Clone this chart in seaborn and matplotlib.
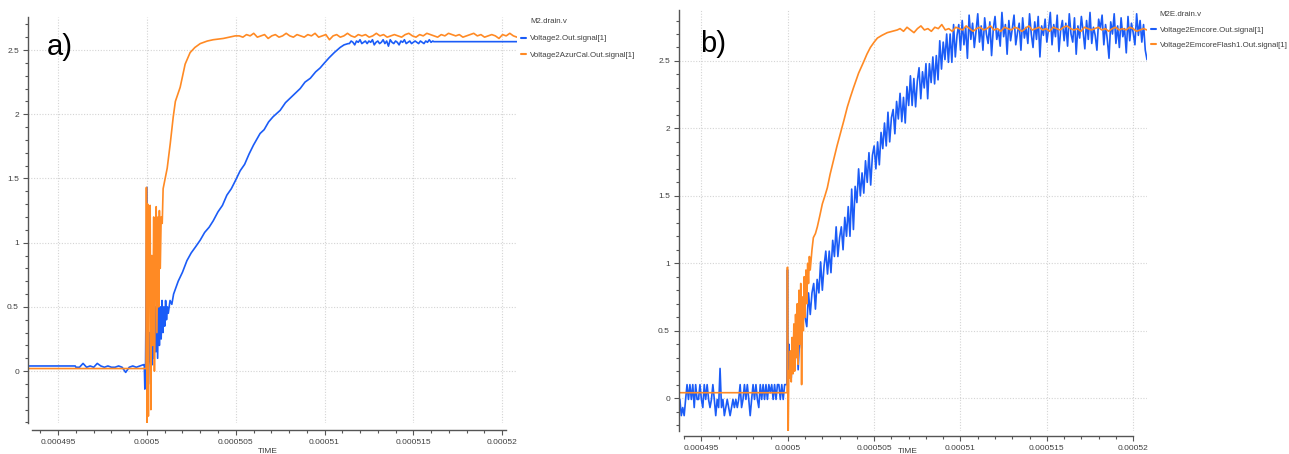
import numpy as np
import pandas as pd
import seaborn as sns
import matplotlib
matplotlib.use("Agg")
import matplotlib.pyplot as plt
from matplotlib.lines import Line2D
from matplotlib.ticker import MultipleLocator, FuncFormatter

sns.set_style("white")
plt.rcParams['font.family'] = ['Liberation Sans', 'DejaVu Sans']

BLUE = "#1b5cf7"
ORANGE = "#ff8a24"

# ======================================================= #
# data, time in microseconds          #
# ======================================================= #

# ------ panel a) Voltage2.Out.signal[1] ------ #
A_BLUE_NAME = "Voltage2.Out.signal[1]"
A_BLUE_PRE_T = [493.3, 495.96]
A_BLUE_PRE_V = [0.04, 0.04]
A_BLUE_IDLE_SPAN = (496.0, 499.8)
A_BLUE_IDLE_V = [0.03, 0.03, 0.06, 0.03, 0.04, 0.03, 0.06, 0.04, 0.03, 0.04,
                 0.03, 0.03, 0.04, 0.03, -0.01, 0.03, 0.04, 0.03, 0.04, 0.05]
A_BLUE_EDGE_T = [499.85, 499.88, 499.92, 499.96, 500.0, 500.05, 500.1, 500.15,
                 500.2, 500.25, 500.3, 500.35, 500.4, 500.45, 500.5, 500.55,
                 500.6, 500.65, 500.7, 500.75, 500.8, 500.85, 500.9, 500.95,
                 501.0, 501.05, 501.1, 501.15, 501.2, 501.3, 501.4]
A_BLUE_EDGE_V = [0.05, -0.14, 0.05, 0.75, 1.43, 0.02, 0.1, 0.3, -0.1, 0.35,
                 0.05, 0.45, 0.1, 0.5, 0.15, 0.6, 0.1, 0.55, 0.2, 0.5,
                 0.25, 0.55, 0.3, 0.5, 0.35, 0.55, 0.4, 0.5, 0.45, 0.55, 0.52]
A_BLUE_RAMP_T = [501.5, 501.76, 502.0, 502.25, 502.49, 502.75, 503.0, 503.25,
                 503.5, 503.73, 504.0, 504.25, 504.5, 504.75, 504.97, 505.25,
                 505.5, 505.75, 506.0, 506.37, 506.6, 506.85, 507.1, 507.5,
                 507.8, 508.1, 508.4, 508.63, 508.9, 509.2, 509.5, 509.75,
                 510.0, 510.26, 510.55, 510.88, 511.1, 511.33]
A_BLUE_RAMP_V = [0.60, 0.70, 0.77, 0.86, 0.92, 0.97, 1.02, 1.08, 1.12, 1.17,
                 1.24, 1.29, 1.37, 1.42, 1.48, 1.56, 1.61, 1.69, 1.76, 1.85,
                 1.88, 1.94, 1.98, 2.03, 2.09, 2.13, 2.17, 2.20, 2.25, 2.28,
                 2.33, 2.36, 2.40, 2.44, 2.48, 2.52, 2.54, 2.55]
A_BLUE_FLAT_SPAN = (511.4, 516.1)
A_BLUE_FLAT_V = [2.55, 2.57, 2.56, 2.54, 2.57, 2.56, 2.58, 2.55, 2.56, 2.57,
                 2.55, 2.57, 2.56, 2.58, 2.54, 2.56, 2.57, 2.55, 2.56, 2.58,
                 2.55, 2.57, 2.53, 2.58, 2.56, 2.55, 2.57, 2.56, 2.54, 2.57,
                 2.56, 2.58, 2.55, 2.56, 2.57, 2.55, 2.56, 2.57, 2.56, 2.55,
                 2.57, 2.56, 2.55, 2.57, 2.56, 2.58, 2.56, 2.57]
A_BLUE_HOLD_T = [516.15, 520.84]
A_BLUE_HOLD_V = [2.565, 2.565]

# ------ panel a) Voltage2AzurCal.Out.signal[1] ------ #
A_ORANGE_NAME = "Voltage2AzurCal.Out.signal[1]"
A_ORANGE_T = [493.3, 499.95, 499.97, 500.0, 500.04, 500.08, 500.12, 500.18,
              500.22, 500.27, 500.32, 500.38, 500.42, 500.48, 500.52, 500.56,
              500.62, 500.66, 500.7, 500.75, 500.8, 500.86, 500.91, 501.14,
              501.31, 501.48, 501.6, 501.87, 502.15, 502.43, 502.7, 503.0,
              503.4, 503.73, 504.3, 504.97]
A_ORANGE_V = [0.02, 0.02, 1.43, -0.45, 1.3, -0.35, 1.0, 1.29, -0.3, 0.9,
              0.2, 1.2, 0.0, 0.95, 1.28, 0.3, 1.2, 0.5, 1.25, 0.8,
              1.2, 1.15, 1.42, 1.58, 1.77, 1.98, 2.1, 2.21, 2.39, 2.48,
              2.52, 2.55, 2.57, 2.58, 2.59, 2.61]
A_ORANGE_FLAT_SPAN = (505.2, 520.84)
A_ORANGE_FLAT_V = [2.61, 2.60, 2.62, 2.61, 2.63, 2.60, 2.61, 2.62, 2.59, 2.61,
                   2.62, 2.60, 2.61, 2.63, 2.61, 2.60, 2.62, 2.61, 2.60, 2.62,
                   2.61, 2.63, 2.60, 2.61, 2.62, 2.58, 2.61, 2.62, 2.60, 2.61,
                   2.63, 2.61, 2.60, 2.62, 2.61, 2.62, 2.60, 2.61, 2.63, 2.61,
                   2.62, 2.60, 2.61, 2.62, 2.61, 2.60, 2.62, 2.63, 2.61, 2.60,
                   2.62, 2.61, 2.63, 2.62, 2.61, 2.60, 2.62, 2.61, 2.63, 2.62,
                   2.61, 2.62, 2.60, 2.61, 2.62, 2.63, 2.61, 2.62, 2.60, 2.61,
                   2.62, 2.61, 2.59, 2.62, 2.61, 2.63, 2.61, 2.60]

# ------ panel b) Voltage2Emcore.Out.signal[1] ------ #
B_BLUE_NAME = "Voltage2Emcore.Out.signal[1]"
B_BLUE_IDLE_SPAN = (493.75, 499.9)
B_BLUE_IDLE_V = [-0.01, -0.13, -0.07, -0.13, -0.01, 0.1, -0.01, 0.1, -0.01, 0.1,
                 -0.07, 0.1, -0.01, -0.01, 0.1, -0.01, -0.07, 0.1, -0.01, 0.1,
                 -0.01, -0.07, -0.01, 0.1, -0.01, -0.13, -0.01, -0.07, 0.22, -0.07,
                 -0.01, -0.13, -0.07, -0.01, -0.07, -0.13, -0.07, -0.01, -0.07, -0.01,
                 -0.07, -0.01, 0.1, -0.07, -0.01, 0.1, -0.01, 0.1, -0.01, -0.13,
                 -0.01, 0.1, -0.01, 0.1, -0.01, -0.07, 0.1, -0.01, 0.1, -0.01,
                 0.1, -0.01, 0.1, 0.04, 0.1, -0.01, 0.1, -0.01, 0.1, 0.1,
                 -0.01, 0.1, -0.01, 0.1, 0.1]
B_BLUE_EDGE_T = [499.95, 499.98, 500.02, 500.06]
B_BLUE_EDGE_V = [0.1, 0.95, 0.12, 0.4]
B_BLUE_RAMP_SPAN = (500.1, 510.0)
B_BLUE_RAMP_V = [0.30, 0.15, 0.43, 0.25, 0.53, 0.21, 0.50, 0.37, 0.74, 0.60,
                 0.53, 0.78, 0.62, 0.78, 0.85, 0.66, 0.88, 0.78, 1.01, 0.80,
                 0.98, 1.09, 0.92, 1.09, 0.93, 1.17, 1.05, 1.27, 1.05, 1.19,
                 1.27, 1.10, 1.34, 1.20, 1.42, 1.20, 1.55, 1.25, 1.57, 1.45,
                 1.70, 1.50, 1.67, 1.52, 1.76, 1.60, 1.82, 1.58, 1.80, 1.87,
                 1.70, 1.90, 1.73, 1.97, 1.85, 2.04, 1.87, 2.12, 1.90, 2.08,
                 2.14, 1.96, 2.20, 2.07, 2.26, 2.05, 2.23, 2.04, 2.31, 2.17,
                 2.39, 2.17, 2.37, 2.16, 2.35, 2.45, 2.22, 2.42, 2.30, 2.48,
                 2.22, 2.48, 2.34, 2.53, 2.33, 2.54, 2.36, 2.65, 2.44, 2.64,
                 2.51, 2.70, 2.49, 2.70, 2.49, 2.77, 2.53, 2.69, 2.77, 2.58]
B_BLUE_FLAT_SPAN = (510.1, 520.8)
B_BLUE_FLAT_V = [2.80, 2.62, 2.75, 2.52, 2.84, 2.66, 2.78, 2.60, 2.72, 2.85,
                 2.64, 2.76, 2.58, 2.82, 2.70, 2.63, 2.79, 2.54, 2.74, 2.83,
                 2.66, 2.73, 2.61, 2.86, 2.68, 2.77, 2.55, 2.80, 2.65, 2.74,
                 2.84, 2.62, 2.71, 2.78, 2.58, 2.82, 2.67, 2.75, 2.63, 2.85,
                 2.70, 2.60, 2.79, 2.66, 2.83, 2.53, 2.76, 2.69, 2.81, 2.64,
                 2.74, 2.86, 2.62, 2.77, 2.68, 2.84, 2.57, 2.73, 2.80, 2.65,
                 2.78, 2.61, 2.85, 2.70, 2.64, 2.82, 2.55, 2.76, 2.67, 2.83,
                 2.72, 2.59, 2.80, 2.66, 2.86, 2.63, 2.75, 2.69, 2.58, 2.81,
                 2.74, 2.84, 2.62, 2.77, 2.66, 2.52, 2.79, 2.70, 2.85, 2.63,
                 2.76, 2.60, 2.82, 2.68, 2.74, 2.56, 2.83, 2.65, 2.78, 2.71,
                 2.62, 2.85, 2.69, 2.80, 2.64, 2.77, 2.58, 2.51]

# ------ panel b) Voltage2EmcoreFlash1.Out.signal[1] ------ #
B_ORANGE_NAME = "Voltage2EmcoreFlash1.Out.signal[1]"
B_ORANGE_T = [493.7, 499.96, 499.98, 500.02, 500.06, 500.1, 500.15, 500.2,
              500.25, 500.3, 500.35, 500.4, 500.45, 500.5, 500.55, 500.6,
              500.65, 500.7, 500.75, 500.8, 500.85, 500.9, 500.95, 501.0,
              501.05, 501.1, 501.15, 501.2, 501.25, 501.3, 501.4, 501.48,
              501.6, 501.71, 501.85, 502.0, 502.15, 502.29, 502.45, 502.64,
              502.85, 503.04, 503.25, 503.45, 503.62, 503.8, 504.1, 504.38,
              504.58, 504.78, 505.0, 505.19, 505.45, 505.76, 506.05, 506.34]
B_ORANGE_V = [0.04, 0.04, 0.97, -0.3, 0.2, 0.15, 0.35, 0.12, 0.45, 0.18,
              0.55, 0.2, 0.62, 0.3, 0.7, 0.25, 0.8, 0.4, 0.85, 0.1,
              0.75, 0.5, 0.9, 0.6, 0.95, 0.7, 1.0, 0.85, 1.05, 0.95,
              1.1, 1.19, 1.22, 1.27, 1.35, 1.44, 1.5, 1.56, 1.66, 1.76,
              1.87, 1.96, 2.06, 2.16, 2.23, 2.30, 2.41, 2.49, 2.55, 2.60,
              2.64, 2.67, 2.69, 2.71, 2.72, 2.73]
B_ORANGE_FLAT_SPAN = (506.5, 520.8)
B_ORANGE_FLAT_V = [2.74, 2.72, 2.75, 2.73, 2.71, 2.74, 2.76, 2.73, 2.74, 2.72,
                   2.75, 2.74, 2.77, 2.73, 2.74, 2.72, 2.75, 2.74, 2.73, 2.76,
                   2.74, 2.72, 2.74, 2.75, 2.73, 2.74, 2.76, 2.73, 2.74, 2.72,
                   2.75, 2.74, 2.73, 2.75, 2.74, 2.72, 2.74, 2.76, 2.73, 2.74,
                   2.75, 2.73, 2.74, 2.72, 2.75, 2.74, 2.73, 2.75, 2.76, 2.74,
                   2.73, 2.74, 2.72, 2.75, 2.74, 2.73, 2.74, 2.75, 2.73, 2.74,
                   2.72, 2.74, 2.75, 2.73, 2.74, 2.73, 2.75, 2.74, 2.72, 2.73,
                   2.74, 2.73]

X_TICKS_US = [495, 500, 505, 510, 515, 520]


def sampled(span, values):
    # uniform simulation steps across a span
    return np.linspace(span[0], span[1], len(values)), values


def build_frame(series):
    rows = []
    for name, parts in series:
        t = np.concatenate([np.asarray(p[0], float) for p in parts])
        v = np.concatenate([np.asarray(p[1], float) for p in parts])
        rows.append(pd.DataFrame({"time": t * 1e-6, "value": v, "signal": name}))
    return pd.concat(rows, ignore_index=True)


frame_a = build_frame([
    (A_BLUE_NAME, [(A_BLUE_PRE_T, A_BLUE_PRE_V),
                   sampled(A_BLUE_IDLE_SPAN, A_BLUE_IDLE_V),
                   (A_BLUE_EDGE_T, A_BLUE_EDGE_V),
                   (A_BLUE_RAMP_T, A_BLUE_RAMP_V),
                   sampled(A_BLUE_FLAT_SPAN, A_BLUE_FLAT_V),
                   (A_BLUE_HOLD_T, A_BLUE_HOLD_V)]),
    (A_ORANGE_NAME, [(A_ORANGE_T, A_ORANGE_V),
                     sampled(A_ORANGE_FLAT_SPAN, A_ORANGE_FLAT_V)]),
])
frame_b = build_frame([
    (B_BLUE_NAME, [sampled(B_BLUE_IDLE_SPAN, B_BLUE_IDLE_V),
                   (B_BLUE_EDGE_T, B_BLUE_EDGE_V),
                   sampled(B_BLUE_RAMP_SPAN, B_BLUE_RAMP_V),
                   sampled(B_BLUE_FLAT_SPAN, B_BLUE_FLAT_V)]),
    (B_ORANGE_NAME, [(B_ORANGE_T, B_ORANGE_V),
                     sampled(B_ORANGE_FLAT_SPAN, B_ORANGE_FLAT_V)]),
])


def draw_panel(ax, frame, names, xlim, ylim, spine_x, offset, tag, tag_xy,
               title, title_xy, legend_xy, spacing):
    sns.lineplot(data=frame, x="time", y="value", hue="signal",
                 hue_order=names, palette=[BLUE, ORANGE], estimator=None,
                 sort=False, linewidth=1.2, legend=False, ax=ax)
    ax.set_xlim(*xlim)
    ax.set_ylim(*ylim)
    ax.set_xlabel("")
    ax.set_ylabel("")

    # ------ axes & ticks ------ #
    ax.set_xticks([x * 1e-6 for x in X_TICKS_US])
    ax.xaxis.set_minor_locator(MultipleLocator(1e-6))
    ax.yaxis.set_major_locator(MultipleLocator(0.5))
    ax.yaxis.set_minor_locator(MultipleLocator(0.1))
    ax.xaxis.set_major_formatter(FuncFormatter(lambda v, p: "%g" % round(v, 9)))
    ax.yaxis.set_major_formatter(FuncFormatter(lambda v, p: "%g" % round(v, 3)))
    ax.tick_params(which="both", bottom=True, left=True, direction="out",
                   color="#555555", width=0.8)
    ax.tick_params(which="major", length=3.5, labelsize=6,
                   labelcolor="#404040", pad=3)
    ax.tick_params(which="minor", length=2)
    for side in ["top", "right"]:
        ax.spines[side].set_visible(False)
    for side in ["left", "bottom"]:
        ax.spines[side].set_color("#555555")
        ax.spines[side].set_linewidth(1.0)
    ax.spines["bottom"].set_position(("outward", offset))
    ax.spines["bottom"].set_bounds(*spine_x)
    ax.grid(True, which="major", color="#d4d4d4",
            linestyle=(0, (1, 1.5)), linewidth=0.8)

    # ------ labels ------ #
    ax.text(tag_xy[0], tag_xy[1], tag, transform=ax.transAxes,
            fontsize=21, va="center", ha="left", color="black")
    ax.text(title_xy[0], title_xy[1], title, transform=ax.transAxes,
            fontsize=5.7, va="center", ha="left", color="#404040",
            clip_on=False)
    handles = [Line2D([], [], color=BLUE, lw=1.5),
               Line2D([], [], color=ORANGE, lw=1.5)]
    ax.legend(handles, names, loc="upper left", bbox_to_anchor=legend_xy,
              frameon=False, fontsize=5.7, handlelength=0.6,
              handletextpad=0.5, labelspacing=spacing, borderpad=0,
              borderaxespad=0, labelcolor="#404040")


fig = plt.figure(figsize=(12.89, 4.54), dpi=100, facecolor="w")
ax_a = fig.add_axes([28 / 1289, 1 - 423 / 454, 489 / 1289, 406 / 454])
ax_b = fig.add_axes([679 / 1289, 1 - 431 / 454, 468 / 1289, 421 / 454])

draw_panel(ax_a, frame_a, [A_BLUE_NAME, A_ORANGE_NAME],
           (0.0004933, 0.00052084), (-0.404, 2.757),
           (0.0004935, 0.0005202), 5, "a)", (0.039, 0.926),
           "M2.drain.v", (1.0266, 0.99), (1.008, 0.956), 1.15)
draw_panel(ax_b, frame_b, [B_BLUE_NAME, B_ORANGE_NAME],
           (0.0004937, 0.0005208), (-0.244, 2.878),
           (0.000494, 0.00052), 3.6, "b)", (0.045, 0.919),
           "M2E.drain.v", (1.0256, 0.99), (1.0085, 0.962), 1.03)

# axis titles sit at the very bottom edge, as in the source screenshot
fig.text(268 / 1289, 0.006, "TIME", fontsize=6, ha="center", va="center",
         color="#404040")
fig.text(908 / 1289, 0.006, "TIME", fontsize=6, ha="center", va="center",
         color="#404040")

fig.savefig("out.png", dpi=100)
